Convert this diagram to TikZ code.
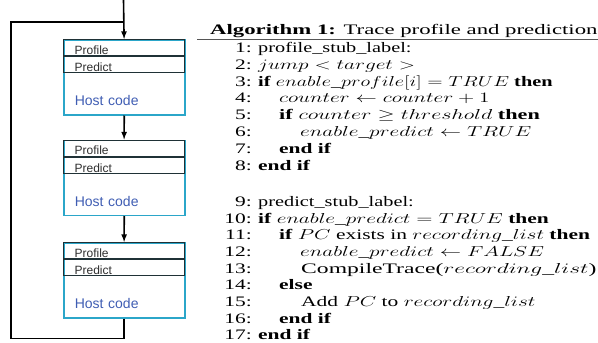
\documentclass[tikz,border=0pt]{standalone}
\usepackage{fontspec}
\setmainfont{Liberation Serif}
\newfontfamily\boxfont{Liberation Sans}
\usetikzlibrary{positioning}

\definecolor{hostcyan}{HTML}{2BA6C9}
\definecolor{hostblue}{HTML}{3F5DB3}
\definecolor{stubline}{HTML}{1F3136}
\definecolor{stubtext}{HTML}{2E2E2E}
\definecolor{rulegray}{HTML}{555555}

\newcommand{\algwide}[2][1.48]{\scalebox{#1}[1]{#2}}

\begin{document}
\begin{tikzpicture}[x=1pt,y=-1pt,>=latex,
    flow/.style={line width=1.6pt},
    hostbox/.style={draw=hostcyan,line width=1.5pt,anchor=north west,inner xsep=11pt,inner ysep=9pt,
        text width=99pt,align=left,text height=57pt,text depth=0pt,text=hostblue,
        font=\boxfont\fontsize{14}{16}\selectfont},
    stub/.style={draw=stubline,line width=1.2pt,anchor=north west,inner xsep=11pt,inner ysep=1.3pt,
        text width=99pt,align=left,text height=13.4pt,text depth=0pt,text=stubtext,
        font=\boxfont\fontsize{12}{14}\selectfont},
    algnum/.style={anchor=base east,inner sep=0pt,font=\fontsize{14.5}{16}\selectfont},
    algline/.style={anchor=base west,inner sep=0pt,font=\fontsize{14.5}{16}\selectfont}]
    \useasboundingbox (0,0) rectangle (598,343);
    % blocks of host code with the two stubs
    \node[hostbox] (h1) at (63,39) {Host code};
    \node[stub] (p1) at (h1.north west) {Profile};
    \node[stub] (d1) at (p1.south west) {Predict};
    \node[hostbox,below=24pt of h1] (h2) {Host code};
    \node[stub] (p2) at (h2.north west) {Profile};
    \node[stub] (d2) at (p2.south west) {Predict};
    \node[hostbox,below=26pt of h2] (h3) {Host code};
    \node[stub] (p3) at (h3.north west) {Profile};
    \node[stub] (d3) at (p3.south west) {Predict};
    \coordinate (in) at (123.5,0);
    \coordinate (entry) at (123.5,21.7);
    \coordinate (loop) at (11,338.3);
    \draw[flow,->] (in) -- (p1.north);
    \draw[flow,->] (h1.south) -- (p2.north);
    \draw[flow,->] (h2.south) -- (p3.north);
    \draw[flow] (h3.south) |- (loop) |- (entry);
    % algorithm
    \node[algline] (title) at (210,34) {\algwide[1.57]{\textbf{Algorithm 1:} Trace profile and prediction}};
    \draw[rulegray,line width=1.3pt] (197,39.7) -- (598,39.7);
    \foreach \k/\y in {1/52.5,2/69.3,3/86.1,4/102.9,5/119.7,6/136.5,7/153.3,8/170.1,
        9/206.3,10/223,11/239.7,12/256.4,13/273.1,14/289.8,15/306.5,16/323.2,17/339.9}
        \node[algnum] (n\k) at (252,\y) {\algwide{\k:}};
    \node[algline] (l1) at ([xshift=6pt]n1.base east) {\algwide[1.4]{profile\_stub\_label:}};
    \node[algline] (l2) at ([xshift=6pt]n2.base east) {\algwide{$jump < target >$}};
    \node[algline] (l3) at ([xshift=6pt]n3.base east) {\algwide[1.4]{\textbf{if} $enable\_profile[i] = TRUE$ \textbf{then}}};
    \node[algline] (l4) at ([xshift=27pt]n4.base east) {\algwide{$counter \leftarrow counter + 1$}};
    \node[algline] (l5) at ([xshift=27pt]n5.base east) {\algwide[1.53]{\textbf{if} $counter \geq threshold$ \textbf{then}}};
    \node[algline] (l6) at ([xshift=48pt]n6.base east) {\algwide{$enable\_predict \leftarrow TRUE$}};
    \node[algline] (l7) at ([xshift=27pt]n7.base east) {\algwide{\textbf{end if}}};
    \node[algline] (l8) at ([xshift=6pt]n8.base east) {\algwide{\textbf{end if}}};
    \node[algline] (l9) at ([xshift=6pt]n9.base east) {\algwide[1.4]{predict\_stub\_label:}};
    \node[algline] (l10) at ([xshift=6pt]n10.base east) {\algwide{\textbf{if} $enable\_predict = TRUE$ \textbf{then}}};
    \node[algline] (l11) at ([xshift=27pt]n11.base east) {\algwide{\textbf{if} $PC$ exists in $recording\_list$ \textbf{then}}};
    \node[algline] (l12) at ([xshift=48pt]n12.base east) {\algwide{$enable\_predict \leftarrow FALSE$}};
    \node[algline] (l13) at ([xshift=49pt]n13.base east) {\algwide[1.63]{CompileTrace($recording\_list$)}};
    \node[algline] (l14) at ([xshift=27pt]n14.base east) {\algwide{\textbf{else}}};
    \node[algline] (l15) at ([xshift=49pt]n15.base east) {\algwide{Add $PC$ to $recording\_list$}};
    \node[algline] (l16) at ([xshift=27pt]n16.base east) {\algwide{\textbf{end if}}};
    \node[algline] (l17) at ([xshift=6pt]n17.base east) {\algwide{\textbf{end if}}};
\end{tikzpicture}
\end{document}
